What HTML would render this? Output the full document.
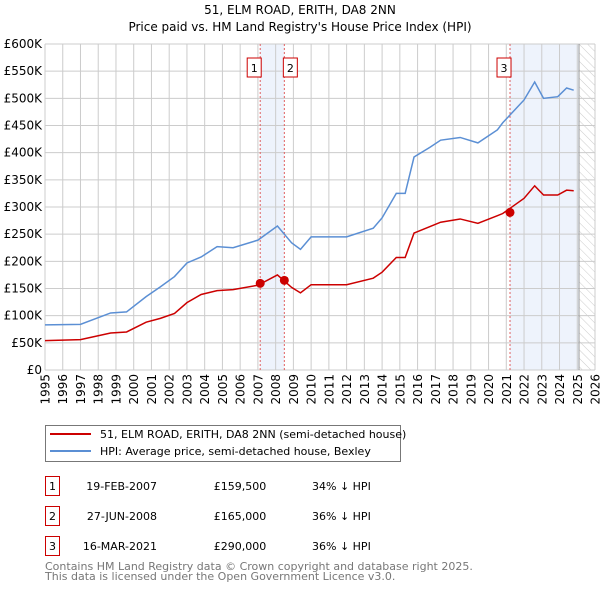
<!DOCTYPE html>
<html><head><meta charset="utf-8"><style>
body{margin:0;background:#fff;font-family:"DejaVu Sans","Liberation Sans",sans-serif}
svg{display:block}
</style></head><body>
<svg id="c" width="600" height="590" xmlns="http://www.w3.org/2000/svg" font-family="DejaVu Sans, Liberation Sans, sans-serif">
<text x="300" y="14" text-anchor="middle" font-size="12">51, ELM ROAD, ERITH, DA8 2NN</text>
<text x="300" y="31" text-anchor="middle" font-size="12">Price paid vs. HM Land Registry's House Price Index (HPI)</text>
<defs><pattern id="hatch" width="6" height="6" patternUnits="userSpaceOnUse" patternTransform="rotate(-45)"><line x1="0" y1="0" x2="0" y2="6" stroke="#ccc" stroke-width="1"/></pattern></defs>
<g id="plot"></g>
<g>
<rect x="45.5" y="425.5" width="355" height="36" fill="#fff" stroke="#777"/>
<line x1="50" y1="434" x2="91" y2="434" stroke="#cc0000" stroke-width="2"/>
<text x="100" y="438" font-size="11">51, ELM ROAD, ERITH, DA8 2NN (semi-detached house)</text>
<line x1="50" y1="451" x2="91" y2="451" stroke="#5b8fd4" stroke-width="2"/>
<text x="100" y="455" font-size="11">HPI: Average price, semi-detached house, Bexley</text>
</g>
<g font-size="11">
<rect x="45.5" y="476.5" width="14" height="19" fill="#fff" stroke="#cc0000"/><text x="52.5" y="490" text-anchor="middle">1</text>
<text x="157" y="490" text-anchor="end">19-FEB-2007</text><text x="240" y="490" text-anchor="middle">£159,500</text><text x="312" y="490">34% ↓ HPI</text>
<rect x="45.5" y="506.5" width="14" height="19" fill="#fff" stroke="#cc0000"/><text x="52.5" y="520" text-anchor="middle">2</text>
<text x="157" y="520" text-anchor="end">27-JUN-2008</text><text x="240" y="520" text-anchor="middle">£165,000</text><text x="312" y="520">36% ↓ HPI</text>
<rect x="45.5" y="536.5" width="14" height="19" fill="#fff" stroke="#cc0000"/><text x="52.5" y="550" text-anchor="middle">3</text>
<text x="157" y="550" text-anchor="end">16-MAR-2021</text><text x="240" y="550" text-anchor="middle">£290,000</text><text x="312" y="550">36% ↓ HPI</text>
</g>
<text x="45" y="570" font-size="11" fill="#777">Contains HM Land Registry data © Crown copyright and database right 2025.</text>
<text x="45" y="580" font-size="11" fill="#777">This data is licensed under the Open Government Licence v3.0.</text>
</svg>
<script>
const years=[1995,1997,1998.7,1999.6,2000.7,2001.5,2002.3,2003,2003.8,2004.7,2005.6,2007,2008.1,2008.9,2009.4,2010,2012,2013.5,2014,2014.8,2015.3,2015.8,2016.7,2017.3,2018.4,2019.4,2020.5,2020.8,2022,2022.6,2023.1,2023.9,2024.4,2024.8];
const hpiValues=[83,84,105,107,135,153,172,197,208,227,225,239,265,234,222,245,245,261,280,325,325,392,410,423,428,418,442,455,497,530,500,503,519,515];
const priceValues=[54,56,68,70,88,95,104,124,139,146,148,156,175,152,142,157,157,169,180,207,207,252,264,272,278,270,284,288,316,339,322,322,331,330];
const saleYears=[2007.13,2008.49,2021.21];
const saleValues=[159.5,165,290];
const yTicks=[0,50,100,150,200,250,300,350,400,450,500,550,600];
const xTicks=[1995,1996,1997,1998,1999,2000,2001,2002,2003,2004,2005,2006,2007,2008,2009,2010,2011,2012,2013,2014,2015,2016,2017,2018,2019,2020,2021,2022,2023,2024,2025,2026];
const X0=45,X1=595,Y0=370,Y1=44;
const sx=y=>X0+(y-1995)/(2026-1995)*(X1-X0);
const sy=v=>Y0-v/600*(Y0-Y1);
const NS='http://www.w3.org/2000/svg';
const g=document.getElementById('plot');
function mk(t,a){const e=document.createElementNS(NS,t);for(const k in a)e.setAttribute(k,a[k]);g.appendChild(e);return e;}
let e;
e=mk('rect',{x:sx(saleYears[0]),y:Y1,width:sx(saleYears[1])-sx(saleYears[0]),height:Y0-Y1,fill:'#eef3fc'});


e=mk('rect',{x:sx(saleYears[2]),y:Y1,width:sx(2025.1)-sx(saleYears[2]),height:Y0-Y1,fill:'#eef3fc'});


e=mk('rect',{x:sx(2025.1),y:Y1,width:X1-sx(2025.1),height:Y0-Y1,fill:'url(#hatch)'});


yTicks.forEach(v=>{
 e=mk('line',{x1:X0,x2:X1,y1:sy(v),y2:sy(v),stroke:'#ccc'});
 
 
 e=mk('text',{x:X0-3,y:sy(v)+4,'text-anchor':'end','font-size':12});
 e.textContent=v===0?'£0':'£'+v+'K';
 
 
});
xTicks.forEach(t=>{
 e=mk('line',{x1:sx(t),x2:sx(t),y1:Y1,y2:Y0,stroke:'#ccc'});
 
 
 e=mk('text',{x:0,y:0,'font-size':12,'text-anchor':'end',transform:`translate(${sx(t)+4.5},${Y0+4}) rotate(-90)`});
 e.textContent=t;
 
 
});
e=mk('line',{x1:sx(2025.1),x2:sx(2025.1),y1:Y1,y2:Y0,stroke:'#999'});


saleYears.forEach((y,i)=>{
 e=mk('line',{x1:sx(y),x2:sx(y),y1:Y1,y2:Y0,stroke:'#e06060','stroke-dasharray':'2,2'});
 
 
 e=mk('rect',{x:sx(y)-(i==1?1:13),y:58,width:14,height:19,fill:'#fff',stroke:'#cc0000'});
 
 
 e=mk('text',{x:sx(y)-(i==1?-6:6),y:72,'text-anchor':'middle','font-size':11});
 e.textContent=String(i+1);
 
 
});
e=mk('polyline',{points:years.map((y,i)=>sx(y)+','+sy(hpiValues[i])).join(' '),fill:'none',stroke:'#5b8fd4','stroke-width':1.5});


e=mk('polyline',{points:years.map((y,i)=>sx(y)+','+sy(priceValues[i])).join(' '),fill:'none',stroke:'#cc0000','stroke-width':1.5});


saleYears.forEach((y,i)=>{
 e=mk('circle',{cx:sx(y),cy:sy(saleValues[i]),r:4.5,fill:'#cc0000'});
 
 
});
</script>
</body></html>
